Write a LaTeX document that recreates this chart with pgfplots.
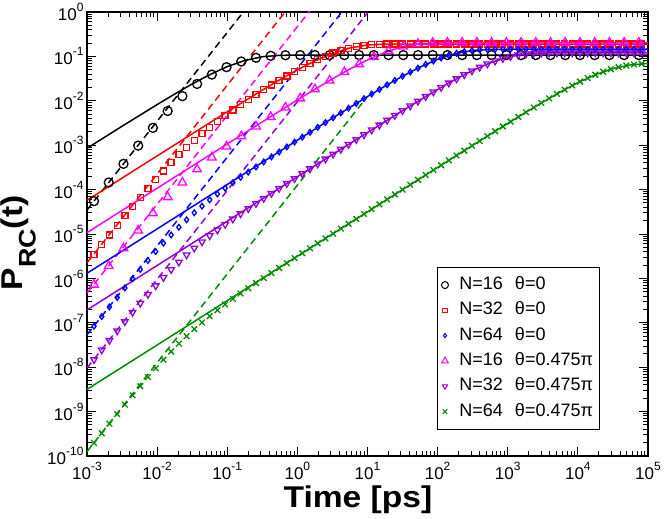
\documentclass[border=0pt]{standalone}
\usepackage{pgfplots}
\pgfplotsset{compat=1.18}
\usepackage{pgfplotstable}
\usepackage{fontspec}
\setmainfont{Liberation Sans}
\definecolor{gviolet}{RGB}{148,0,211}
\definecolor{ggreen}{RGB}{0,139,0}
\definecolor{gmagenta}{RGB}{255,0,255}
\definecolor{gred}{RGB}{255,0,0}
\definecolor{gblue}{RGB}{0,0,255}
\newcommand{\tp}[1]{10\raisebox{9pt}{\fontsize{12}{12}\selectfont #1}}

\pgfplotstableread{
t black magenta
1.259e-3 5.50e-5 7.244e-7
2.042e-3 1.445e-4 1.905e-6
3.311e-3 3.802e-4 4.786e-6
5.370e-3 9.772e-4 1.202e-5
8.710e-3 2.455e-3 2.951e-5
1.413e-2 5.888e-3 6.761e-5
2.291e-2 1.274e-2 1.445e-4
3.715e-2 2.399e-2 2.864e-4
6.026e-2 3.890e-2 5.309e-4
9.772e-2 5.715e-2 9.376e-4
0.1585 7.674e-2 1.592e-3
0.2570 9.311e-2 2.649e-3
0.4169 0.1030 4.335e-3
0.6761 0.1064 7.047e-3
1.096 0.107 1.135e-2
1.778 0.107 1.820e-2
2.884 0.107 2.864e-2
4.677 0.107 4.446e-2
7.586 0.107 6.699e-2
12.30 0.107 9.705e-2
19.95 0.107 0.1324
32.36 0.107 0.1663
52.48 0.107 0.1905
85.11 0.107 0.2014
138.0 0.107 0.204
223.9 0.107 0.204
363.1 0.107 0.204
588.8 0.107 0.204
955.0 0.107 0.204
1549 0.107 0.204
2512 0.107 0.204
4074 0.107 0.204
6607 0.107 0.204
10720 0.107 0.204
17380 0.107 0.204
28180 0.107 0.204
45710 0.107 0.204
74130 0.107 0.204
}\tabA

\pgfplotstableread{
t red blue violet green
1.259e-3 3.467e-6 8.375e-8 1.483e-8 1.963e-10
1.622e-3 5.754e-6 1.380e-7 2.443e-8 3.243e-10
2.089e-3 9.550e-6 2.275e-7 4.009e-8 5.346e-10
2.692e-3 1.549e-5 3.724e-7 6.561e-8 8.770e-10
3.467e-3 2.570e-5 6.081e-7 1.067e-7 1.432e-9
4.467e-3 4.169e-5 9.863e-7 1.722e-7 2.323e-9
5.754e-3 6.683e-5 1.592e-6 2.761e-7 3.750e-9
7.413e-3 1.072e-4 2.541e-6 4.375e-7 5.998e-9
9.550e-3 1.698e-4 4.009e-6 6.823e-7 9.462e-9
1.230e-2 2.630e-4 6.223e-6 1.050e-6 1.476e-8
1.585e-2 4.074e-4 9.506e-6 1.581e-6 2.259e-8
2.042e-2 6.095e-4 1.422e-5 2.333e-6 3.388e-8
2.630e-2 8.913e-4 2.089e-5 3.381e-6 4.989e-8
3.388e-2 1.291e-3 3.006e-5 4.797e-6 7.211e-8
4.365e-2 1.828e-3 4.236e-5 6.668e-6 1.016e-7
5.623e-2 2.529e-3 5.861e-5 9.141e-6 1.409e-7
7.244e-2 3.451e-3 7.980e-5 1.233e-5 1.923e-7
9.333e-2 4.645e-3 1.074e-4 1.644e-5 2.594e-7
0.1202 6.180e-3 1.432e-4 2.178e-5 3.459e-7
0.1549 8.128e-3 1.888e-4 2.864e-5 4.571e-7
0.1995 1.059e-2 2.477e-4 3.741e-5 5.998e-7
0.2570 1.374e-2 3.228e-4 4.875e-5 7.834e-7
0.3311 1.766e-2 4.198e-4 6.324e-5 1.019e-6
0.4266 2.265e-2 5.445e-4 8.204e-5 1.321e-6
0.5495 2.884e-2 7.047e-4 1.062e-4 1.714e-6
0.7079 3.631e-2 9.120e-4 1.371e-4 2.218e-6
0.9120 4.550e-2 1.175e-3 1.770e-4 2.864e-6
1.175 5.675e-2 1.517e-3 2.286e-4 3.698e-6
1.514 6.982e-2 1.954e-3 2.944e-4 4.775e-6
1.950 8.492e-2 2.523e-3 3.793e-4 6.166e-6
2.512 0.1012 3.236e-3 4.887e-4 7.943e-6
3.236 0.1186 4.159e-3 6.295e-4 1.023e-5
4.169 0.1361 5.333e-3 8.091e-4 1.318e-5
5.370 0.1524 6.823e-3 1.040e-3 1.698e-5
6.918 0.1663 8.730e-3 1.340e-3 2.188e-5
8.913 0.1770 1.117e-2 1.722e-3 2.818e-5
11.48 0.1837 1.422e-2 2.213e-3 3.631e-5
14.79 0.1875 1.803e-2 2.844e-3 4.677e-5
19.05 0.1892 2.286e-2 3.648e-3 6.026e-5
24.55 0.1901 2.871e-2 4.677e-3 7.762e-5
31.62 0.190 3.581e-2 5.998e-3 1.000e-4
40.74 0.190 4.446e-2 7.674e-3 1.288e-4
52.48 0.190 5.445e-2 9.817e-3 1.656e-4
67.61 0.190 6.592e-2 1.247e-2 2.133e-4
87.10 0.190 7.870e-2 1.585e-2 2.748e-4
112.2 0.190 9.204e-2 2.000e-2 3.540e-4
144.5 0.190 0.1052 2.512e-2 4.560e-4
186.2 0.190 0.1175 3.133e-2 5.861e-4
239.9 0.190 0.1279 3.873e-2 7.551e-4
309.0 0.190 0.1355 4.732e-2 9.705e-4
398.1 0.190 0.1406 5.715e-2 1.247e-3
512.9 0.190 0.1432 6.776e-2 1.603e-3
660.7 0.190 0.1445 7.889e-2 2.061e-3
851.1 0.190 0.145 8.974e-2 2.642e-3
1096 0.190 0.145 9.954e-2 3.388e-3
1413 0.190 0.145 0.1076 4.335e-3
1820 0.190 0.145 0.1135 5.534e-3
2344 0.190 0.145 0.1172 7.063e-3
3020 0.190 0.145 0.1191 8.974e-3
3890 0.190 0.145 0.1197 1.135e-2
5012 0.190 0.145 0.120 1.429e-2
6457 0.190 0.145 0.120 1.786e-2
8318 0.190 0.145 0.120 2.218e-2
10720 0.190 0.145 0.120 2.700e-2
13800 0.190 0.145 0.120 3.243e-2
17780 0.190 0.145 0.120 3.864e-2
22910 0.190 0.145 0.120 4.508e-2
29510 0.190 0.145 0.120 5.140e-2
38020 0.190 0.145 0.120 5.728e-2
48980 0.190 0.145 0.120 6.209e-2
63100 0.190 0.145 0.120 6.561e-2
81280 0.190 0.145 0.120 6.808e-2
}\tabB

\begin{document}
\begin{tikzpicture}
\begin{axis}[
  name=ax, scale only axis, width=561pt, height=444pt,
  xmode=log, ymode=log,
  xmin=1e-3, xmax=1e5, ymin=1e-10, ymax=1,
  xtick={1e-3,1e-2,1e-1,1,10,100,1000,1e4,1e5},
  xticklabels={\tp{-3},\tp{-2},\tp{-1},\tp{0},\tp{1},\tp{2},\tp{3},\tp{4},\tp{5}},
  ytick={1e-10,1e-9,1e-8,1e-7,1e-6,1e-5,1e-4,1e-3,1e-2,1e-1,1},
  yticklabels={\tp{-10},\tp{-9},\tp{-8},\tp{-7},\tp{-6},\tp{-5},\tp{-4},\tp{-3},\tp{-2},\tp{-1},\tp{0}},
  minor xtick={2e-3,3e-3,4e-3,5e-3,6e-3,7e-3,8e-3,9e-3,
    2e-2,3e-2,4e-2,5e-2,6e-2,7e-2,8e-2,9e-2,
    0.2,0.3,0.4,0.5,0.6,0.7,0.8,0.9,
    2,3,4,5,6,7,8,9,
    20,30,40,50,60,70,80,90,
    200,300,400,500,600,700,800,900,
    2000,3000,4000,5000,6000,7000,8000,9000,
    2e4,3e4,4e4,5e4,6e4,7e4,8e4,9e4},
  minor ytick={2e-10,3e-10,4e-10,5e-10,6e-10,7e-10,8e-10,9e-10,
    2e-9,3e-9,4e-9,5e-9,6e-9,7e-9,8e-9,9e-9,
    2e-8,3e-8,4e-8,5e-8,6e-8,7e-8,8e-8,9e-8,
    2e-7,3e-7,4e-7,5e-7,6e-7,7e-7,8e-7,9e-7,
    2e-6,3e-6,4e-6,5e-6,6e-6,7e-6,8e-6,9e-6,
    2e-5,3e-5,4e-5,5e-5,6e-5,7e-5,8e-5,9e-5,
    2e-4,3e-4,4e-4,5e-4,6e-4,7e-4,8e-4,9e-4,
    2e-3,3e-3,4e-3,5e-3,6e-3,7e-3,8e-3,9e-3,
    2e-2,3e-2,4e-2,5e-2,6e-2,7e-2,8e-2,9e-2,
    0.2,0.3,0.4,0.5,0.6,0.7,0.8,0.9},
  tick align=inside,
  major tick length=9.5pt, minor tick length=5pt,
  every tick/.style={black, line width=1pt},
  axis line style={line width=1.4pt},
  ticklabel style={font=\fontsize{17}{17}\selectfont},
  xticklabel style={yshift=-3pt},
  xlabel={\scalebox{1.12}[1]{Time [ps]}},
  ylabel={\scalebox{1.12}[1]{P\raisebox{-13pt}{\fontsize{24}{24}\selectfont RC}(t)}},
  label style={font=\fontsize{30}{30}\selectfont\bfseries},
  xlabel style={at={(axis description cs:0.483,-0.117)}, anchor=base},
  ylabel style={at={(axis description cs:-0.1146,0.48)}, anchor=base},
  legend cell align=left,
  legend image post style={every mark/.append style={scale=0.78, line width=1pt}},
  legend style={at={(0.624,0.0586)}, anchor=south west, draw=black, line width=0.8pt,
    font=\fontsize{18}{18}\selectfont, inner xsep=4pt, inner ysep=7.5pt,
    row sep=4.3pt, column sep=9pt,
    nodes={inner sep=2pt, text height=13pt, text depth=4pt}},
]
% dashed short-time lines
\addplot[forget plot, black, line width=1.5pt, dash pattern=on 7pt off 4.5pt] coordinates {(1e-3,3.467e-5) (10,3467)};
\addplot[forget plot, gred, line width=1.5pt, dash pattern=on 7pt off 4.5pt] coordinates {(1e-3,2.239e-6) (10,223.9)};
\addplot[forget plot, gmagenta, line width=1.5pt, dash pattern=on 7pt off 4.5pt] coordinates {(1e-3,4.677e-7) (10,46.77)};
\addplot[forget plot, gblue, line width=1.5pt, dash pattern=on 7pt off 4.5pt] coordinates {(1e-3,5.370e-8) (10,5.370)};
\addplot[forget plot, gviolet, line width=1.5pt, dash pattern=on 7pt off 4.5pt] coordinates {(1e-3,9.550e-9) (10,0.955)};
\addplot[forget plot, ggreen, line width=1.5pt, dash pattern=on 7pt off 4.5pt] coordinates {(1e-3,1.259e-10) (10,1.259e-2)};
% solid lines
\addplot[forget plot, black, line width=1.5pt] coordinates {(1e-3,8.51e-4) (3.162e-3,2.673e-3) (1e-2,8.22e-3) (1.778e-2,1.419e-2) (3.162e-2,2.393e-2) (5.623e-2,3.873e-2) (0.1,5.89e-2) (0.1778,8.09e-2) (0.3162,9.84e-2) (0.5623,0.1057) (1,0.107) (1e5,0.107)};
\addplot[forget plot, gred, line width=1.5pt] coordinates {(1e-3,5.754e-5) (1e-2,5.741e-4) (0.1,5.662e-3) (0.3162,1.734e-2) (0.5623,2.979e-2) (1,4.966e-2) (1.778,7.907e-2) (3.162,0.1169) (5.623,0.1549) (10,0.1807) (17.78,0.1892) (31.62,0.190) (1e5,0.190)};
\addplot[forget plot, gmagenta, line width=1.5pt] coordinates {(1e-3,1.072e-5) (1e-2,1.072e-4) (0.1,1.069e-3) (1,1.045e-2) (1.778,1.820e-2) (3.162,3.126e-2) (5.623,5.212e-2) (10,8.337e-2) (17.78,0.1236) (31.62,0.1652) (56.23,0.1932) (100,0.2028) (177.8,0.204) (1e5,0.204)};
\addplot[forget plot, gblue, line width=1.5pt] coordinates {(1e-3,1.303e-6) (1e-2,1.303e-5) (0.1,1.303e-4) (1,1.297e-3) (3.162,4.064e-3) (10,1.245e-2) (17.78,2.143e-2) (31.62,3.581e-2) (56.23,5.754e-2) (100,8.570e-2) (177.8,0.1156) (316.2,0.1358) (562.3,0.1439) (1000,0.145) (1e5,0.145)};
\addplot[forget plot, gviolet, line width=1.5pt] coordinates {(1e-3,1.950e-7) (1e-2,1.950e-6) (0.1,1.950e-5) (1,1.949e-4) (10,1.932e-3) (31.62,5.998e-3) (100,1.799e-2) (177.8,3.010e-2) (316.2,4.819e-2) (562.3,7.178e-2) (1000,9.616e-2) (1778,0.1132) (3162,0.1191) (5623,0.120) (1e5,0.120)};
\addplot[forget plot, ggreen, line width=1.5pt] coordinates {(1e-3,3.162e-9) (1e-2,3.162e-8) (0.1,3.162e-7) (1,3.162e-6) (10,3.162e-5) (100,3.155e-4) (316.2,9.931e-4) (1000,3.097e-3) (1778,5.420e-3) (3162,9.354e-3) (5623,1.581e-2) (1e4,2.560e-2) (17780,3.864e-2) (31620,5.32e-2) (56230,6.44e-2) (1e5,6.92e-2)};
% markers
\addplot[only marks, black, mark=o, mark size=4.5pt, mark options={line width=1.3pt}] table[x=t, y=black] {\tabA};
\addlegendentry{N=16\hspace{12pt}θ=0}
\addplot[only marks, gred, mark=square, mark size=3pt, mark options={line width=1.3pt}] table[x=t, y=red] {\tabB};
\addlegendentry{N=32\hspace{12pt}θ=0}
\addplot[only marks, gblue, mark=diamond, mark size=2.8pt, mark options={line width=1.3pt}] table[x=t, y=blue] {\tabB};
\addlegendentry{N=64\hspace{12pt}θ=0}
\addplot[only marks, gmagenta, mark=triangle, mark size=5pt, mark options={line width=1.3pt}] table[x=t, y=magenta] {\tabA};
\addlegendentry{N=16\hspace{12pt}θ=0.475π}
\addplot[only marks, gviolet, mark=triangle, mark size=3.8pt, mark options={line width=1.3pt, rotate=180}] table[x=t, y=violet] {\tabB};
\addlegendentry{N=32\hspace{12pt}θ=0.475π}
\addplot[only marks, ggreen, mark=x, mark size=4pt, mark options={line width=1.3pt}] table[x=t, y=green] {\tabB};
\addlegendentry{N=64\hspace{12pt}θ=0.475π}
\end{axis}
\pgfresetboundingbox
\path[use as bounding box] ([shift={(-87pt,-63pt)}]ax.south west) rectangle ([shift={(16pt,12pt)}]ax.north east);
\end{tikzpicture}
\end{document}
